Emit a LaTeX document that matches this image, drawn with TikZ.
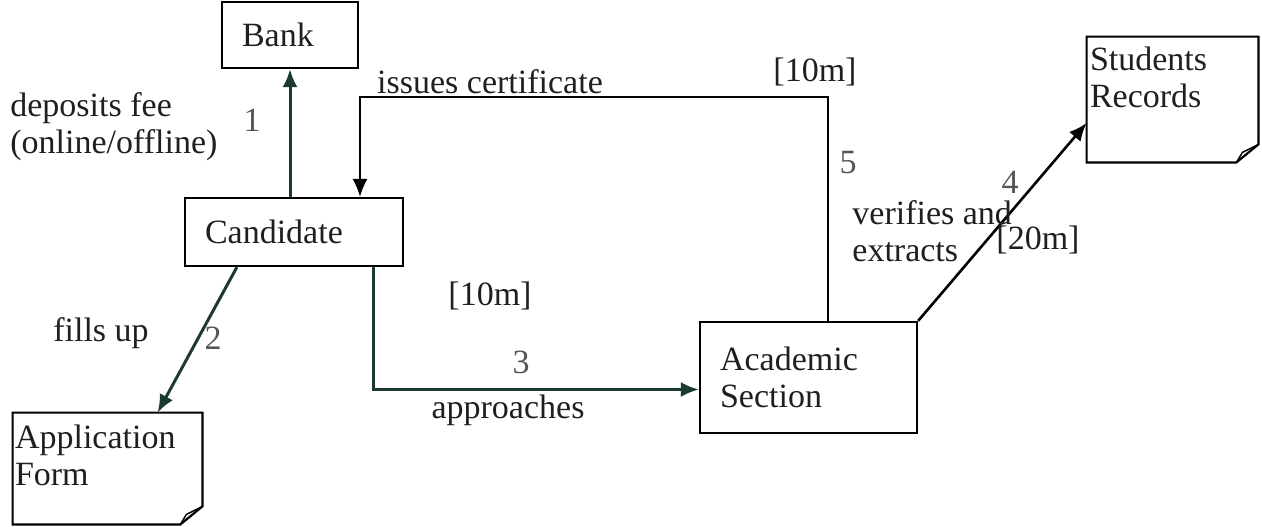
\documentclass[tikz,border=0pt]{standalone}
\usepackage{fontspec}
\setmainfont{Liberation Serif}
\usepackage{xcolor}
\usetikzlibrary{arrows.meta}
\definecolor{flowgreen}{HTML}{1D3A30}
\definecolor{stepgray}{HTML}{555555}
\tikzset{
  txt/.style={font=\fontsize{17}{18.5}\selectfont,text=black!88,inner sep=0pt},
  num/.style={txt,text=stepgray},
  box/.style={draw,line width=1.1pt,rectangle,txt,align=left,inner xsep=10pt},
  page/.style={rectangle,inner sep=0pt},
  flow/.style={line width=1.5pt,draw=flowgreen,-{Latex[length=9pt,width=7.5pt]}},
}
\begin{document}
\begin{tikzpicture}[x=0.5pt,y=-0.5pt]
\useasboundingbox (0,0) rectangle (1262,526);
\node[box,text width=48pt,minimum height=33pt] (bank) at (290,35) {Bank};
\node[box,text width=89pt,minimum height=34pt] (cand) at (294,232) {Candidate};
\node[box,text width=88.5pt,minimum height=55.5pt] (acad) at (808.5,377.5) {Academic\\Section};
\node[page,minimum width=94.5pt,minimum height=55.5pt] (apform) at (107.5,468.5) {};
\node[page,minimum width=85.5pt,minimum height=62.5pt] (records) at (1172.5,99.5) {};
\node[txt,align=left,anchor=north west] (apformtxt) at ([shift={(1pt,-6pt)}]apform.north west) {Application\\Form};
\node[txt,align=left,anchor=north west] (recordstxt) at ([shift={(1.5pt,-5pt)}]records.north west) {Students\\Records};
% pages with a turned corner
\draw[line width=1.1pt] (apform.north west) -- (apform.north east) -- ([yshift=9pt]apform.south east) -- ([xshift=-11pt]apform.south east) -- (apform.south west) -- cycle;
\draw[line width=0.7pt] ([yshift=9pt]apform.south east) -- ([shift={(-8pt,5pt)}]apform.south east) -- ([xshift=-11pt]apform.south east);
\draw[line width=1.1pt] (records.north west) -- (records.north east) -- ([yshift=9pt]records.south east) -- ([xshift=-11pt]records.south east) -- (records.south west) -- cycle;
\draw[line width=0.7pt] ([yshift=9pt]records.south east) -- ([shift={(-8pt,5pt)}]records.south east) -- ([xshift=-11pt]records.south east);
% flows
\coordinate (certtop) at (600,97);
\draw[flow] (cand.north -| bank.south) -- (bank.south);
\draw[flow] ([xshift=26.5pt]cand.south west) -- ([xshift=72.5pt]apform.north west);
\draw[flow] ([xshift=-15.5pt]cand.south east) |- ([yshift=-6pt]acad.west);
\draw[flow,draw=black,line width=1.3pt] (acad.north east) -- ([yshift=-11.75pt]records.west);
\draw[flow,draw=black,line width=0.9pt] ([xshift=9.75pt]acad.north) |- (certtop) -| ([xshift=33pt]cand.north);
% labels
\node[txt,align=left,anchor=west] (depositlbl) at (10,127) {deposits fee\\(online/offline)};
\node[num] (one) at (252,120) {1};
\node[txt] (issuelbl) at (490,82) {issues certificate};
\node[txt] (certtime) at (815,72) {[10m]};
\node[num] (five) at (848,163) {5};
\node[txt] (filllbl) at (101,333) {fills up};
\node[num] (two) at (213,338) {2};
\node[txt] (approachtime) at (490,296) {[10m]};
\node[num] (three) at (521,362) {3};
\node[txt] (approachlbl) at (508,410) {approaches};
\node[num] (four) at (1010,182) {4};
\node[txt,align=left,anchor=west] (verifylbl) at (852,231) {verifies and\\extracts};
\node[txt] (verifytime) at (1038,240) {[20m]};
\end{tikzpicture}
\end{document}
